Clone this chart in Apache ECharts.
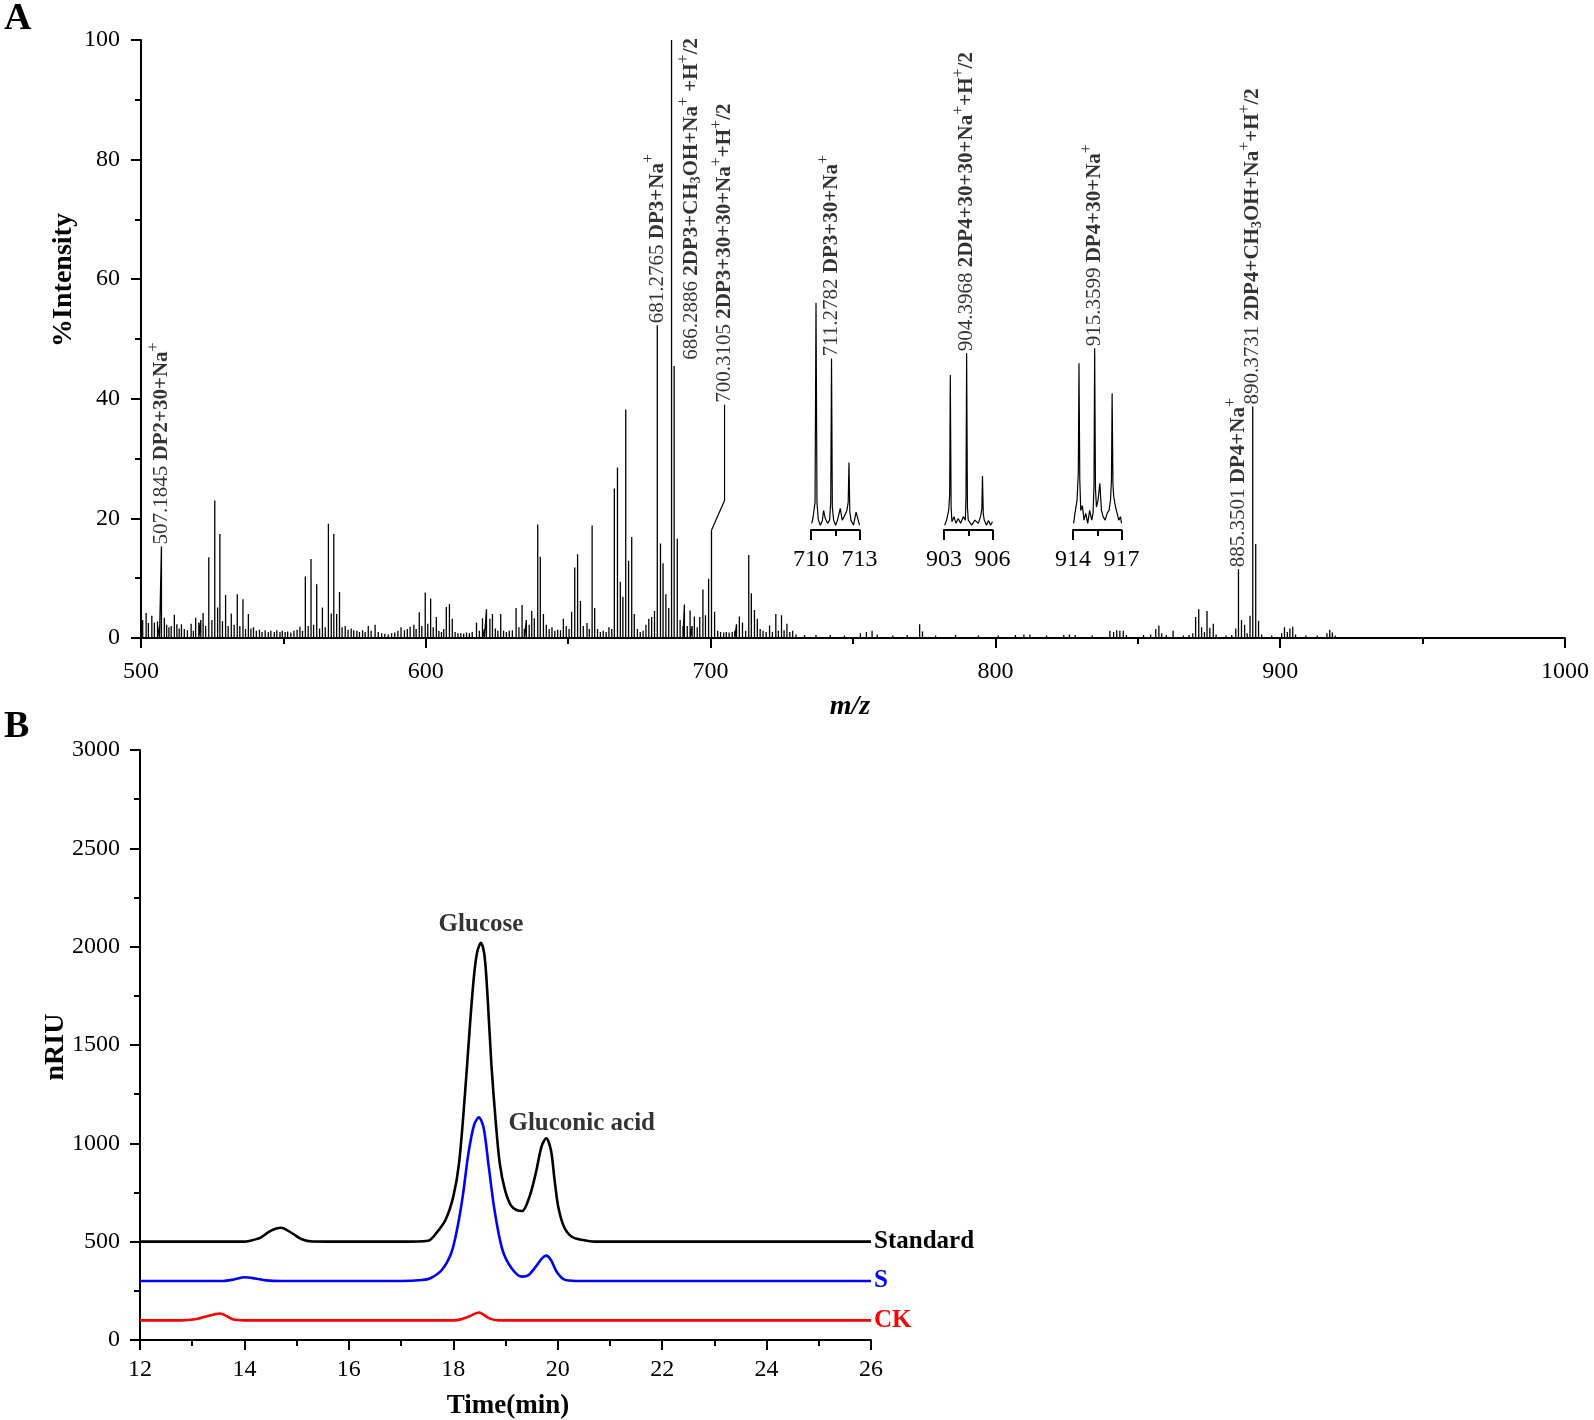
<!DOCTYPE html>
<html><head><meta charset="utf-8">
<script src="https://cdn.jsdelivr.net/npm/echarts@6/dist/echarts.min.js"></script>
<style>html,body{margin:0;padding:0;background:#fff}#c{width:1594px;height:1420px}</style>
</head><body><div id="c"></div>
<script>
// ---------- Panel A: MS spectrum (m/z, % intensity) ----------
const peaks = [
[500.6,3.0],[501.8,4.2],[502.6,2.5],[503.8,3.7],[504.7,2.6],[505.8,2.8],[506.5,2.0],[507.18,15.3],[508.2,3.4],[509.0,2.2],[509.8,1.8],[510.6,2.0],[511.7,3.9],[512.6,2.3],[513.4,1.6],[514.2,2.3],[515.2,1.5],[516.3,1.3],[517.6,2.4],[518.4,1.2],[519.2,3.4],[520.3,2.6],[521.0,3.0],[521.8,4.2],[522.7,2.0],[523.8,13.5],[524.9,3.0],[525.9,23.0],[526.9,5.1],[527.7,17.4],[528.6,2.8],[529.7,7.2],[530.6,2.0],[531.7,4.1],[532.7,2.2],[533.8,7.3],[534.7,2.0],[535.8,6.5],[536.7,1.5],[537.7,4.0],[538.6,1.6],[539.5,1.8],[540.5,1.2],[541.6,1.4],[542.5,1.0],[543.6,1.3],[544.7,1.0],[545.6,1.2],[546.8,1.0],[547.7,1.3],[548.8,1.0],[549.6,1.2],[550.6,1.0],[551.5,1.1],[552.6,0.9],[553.7,1.2],[554.8,1.4],[555.8,1.9],[556.7,1.2],[557.7,10.3],[558.7,2.0],[559.7,13.2],[560.6,2.2],[561.7,9.0],[562.7,1.6],[563.7,5.1],[564.7,1.8],[565.8,19.1],[566.8,4.1],[567.7,17.4],[568.7,4.0],[569.7,7.7],[570.6,1.8],[571.7,2.0],[572.7,1.4],[573.8,1.6],[574.7,1.3],[575.8,1.2],[576.7,1.0],[577.8,1.3],[578.7,1.0],[579.8,2.0],[580.8,1.2],[582.2,2.2],[583.3,1.0],[584.5,0.8],[585.6,0.7],[586.8,0.6],[588.0,0.8],[589.1,0.9],[590.2,1.2],[591.3,1.8],[592.5,1.3],[593.5,1.5],[594.5,1.9],[595.8,2.2],[596.6,1.5],[597.7,4.3],[598.6,2.0],[599.8,7.6],[600.7,2.4],[601.7,6.6],[602.6,1.8],[603.7,3.5],[604.6,1.2],[605.5,1.0],[606.3,1.5],[607.2,5.2],[608.3,5.7],[609.3,3.2],[610.3,1.0],[611.3,0.8],[612.3,0.8],[613.3,0.7],[614.3,0.9],[615.3,0.8],[616.3,1.0],[617.8,2.6],[618.8,1.2],[619.9,3.3],[620.6,1.5],[621.3,4.8],[622.5,3.2],[623.4,4.0],[624.4,1.6],[625.3,1.2],[626.3,4.0],[627.3,1.2],[628.3,1.0],[629.3,1.2],[630.4,1.3],[631.7,5.0],[632.7,1.8],[633.8,5.5],[634.6,1.5],[635.3,3.0],[636.3,2.2],[637.2,4.5],[638.1,3.3],[639.3,19.0],[640.2,13.6],[641.3,4.0],[642.3,2.2],[643.3,1.5],[644.3,1.8],[645.3,1.2],[646.3,1.4],[647.3,1.3],[648.3,3.2],[649.3,2.0],[650.3,1.5],[651.2,4.4],[652.3,11.8],[653.3,14.0],[654.3,6.2],[655.3,2.0],[656.6,2.5],[657.4,1.5],[658.4,18.8],[659.3,5.0],[660.3,1.5],[661.3,1.0],[662.3,1.2],[663.3,1.0],[664.3,1.8],[665.3,1.5],[666.2,25.0],[667.3,28.5],[668.3,9.4],[669.2,6.9],[670.2,38.2],[671.2,12.9],[672.3,16.9],[673.2,4.0],[674.3,1.5],[675.3,1.0],[676.3,1.2],[677.3,2.2],[678.3,3.2],[679.3,3.5],[680.3,4.5],[681.28,52.3],[682.4,15.8],[683.3,12.5],[684.3,7.3],[685.3,5.0],[686.29,100],[687.2,45.5],[688.3,16.6],[689.3,3.0],[690.3,2.0],[690.8,5.6],[691.8,2.0],[692.8,4.6],[693.5,2.0],[694.3,3.6],[695.3,1.8],[696.2,3.5],[697.3,8.1],[698.2,3.8],[699.3,9.9],[700.31,18.0],[701.4,4.4],[702.5,1.2],[703.5,1.0],[704.6,0.9],[705.5,1.0],[706.5,0.9],[707.6,1.0],[708.5,1.2],[709.1,2.3],[710.1,3.6],[711.2,2.6],[712.3,1.2],[713.4,13.9],[714.3,7.5],[715.4,4.7],[716.4,3.2],[717.4,1.5],[718.4,1.2],[719.5,1.0],[720.7,2.1],[721.7,1.0],[722.9,4.0],[723.8,1.2],[724.9,3.8],[725.8,1.3],[726.8,2.4],[727.8,1.0],[728.8,1.2],[730.0,0.6],[733.0,0.5],[737.0,0.5],[742.0,0.5],[747.0,0.4],[752.6,0.8],[754.7,1.0],[756.7,1.2],[758.5,0.6],[764.0,0.4],[769.0,0.5],[773.4,2.3],[774.4,1.1],[779.0,0.4],[786.0,0.5],[794.0,0.4],[801.0,0.4],[807.0,0.5],[810.0,0.6],[812.1,0.6],[818.0,0.4],[824.0,0.5],[826.0,0.6],[828.0,0.5],[834.0,0.4],[840.2,1.2],[841.5,1.0],[842.6,1.3],[843.7,1.2],[844.9,1.2],[846.0,0.5],[852.0,0.5],[854.5,0.6],[856.3,1.5],[857.4,2.1],[858.4,0.8],[860.0,0.5],[862.4,1.2],[866.0,0.4],[868.0,0.5],[869.3,0.8],[870.3,3.5],[871.4,4.8],[872.4,1.8],[873.4,1.0],[874.3,4.5],[875.3,1.7],[876.5,2.4],[877.5,0.6],[881.0,0.4],[883.0,0.5],[884.4,1.6],[885.35,11.5],[886.4,3.0],[887.5,2.2],[888.4,0.8],[889.4,3.7],[890.37,38.7],[891.4,15.7],[892.4,2.9],[893.5,0.6],[897.0,0.4],[900.5,0.8],[901.5,1.8],[902.5,1.0],[903.4,1.6],[904.4,1.9],[905.4,0.6],[909.0,0.4],[913.0,0.4],[916.4,0.8],[917.4,1.4],[918.3,0.9],[919.3,0.4]
];
// inset profiles (m/z, relative intensity of inset)
const inset1 = [[710.04,2.9],[710.12,5.1],[710.25,12],[710.31,98.8],[710.37,12],[710.45,4.5],[710.58,2.1],[710.7,4],[710.78,8.5],[710.88,5],[711.03,2.9],[711.15,4.3],[711.22,12],[711.27,74.6],[711.32,10],[711.4,4.3],[711.52,2.1],[711.64,4.3],[711.81,9.4],[711.93,4.3],[712.05,5.8],[712.22,8.5],[712.3,12],[712.35,29.3],[712.4,8],[712.47,4.3],[712.63,2.1],[712.79,7.8],[712.92,4.3],[713.0,2.1]];
const inset2 = [[903.04,2.1],[903.16,4.3],[903.29,8.5],[903.35,15],[903.39,67.4],[903.44,10],[903.49,3.6],[903.62,5.8],[903.74,2.9],[903.88,5],[904.03,2.9],[904.19,5.8],[904.32,4.3],[904.36,14],[904.4,76.8],[904.45,10],[904.5,4.3],[904.71,2.1],[904.91,4.3],[905.12,2.9],[905.26,5.8],[905.34,9],[905.38,23.5],[905.43,7],[905.49,4.3],[905.63,2.1],[905.75,4.1],[905.88,2.1],[906.0,3.6]];
const inset3 = [[914.04,2.9],[914.12,7.2],[914.25,13],[914.33,25],[914.37,72.5],[914.42,22],[914.48,8.5],[914.58,10.6],[914.68,4.3],[914.79,7.2],[914.91,2.9],[915.03,8.5],[915.16,4.3],[915.24,7.2],[915.3,20],[915.34,79.0],[915.39,18],[915.45,10],[915.55,13],[915.66,20.3],[915.76,8.5],[915.86,5.8],[915.99,4.3],[916.11,7.2],[916.23,8.5],[916.32,13],[916.38,22],[916.42,59.4],[916.47,20],[916.52,14.5],[916.63,10],[916.73,7.2],[916.83,4.3],[916.94,5.8],[917.0,2.9]];

// peak annotation texts
const labMain = [
  [507.18,15.3,'{n|507.1845 }{b|DP2+30+Na}{sp|+}'],
  [681.28,52.3,'{n|681.2765 }{b|DP3+Na}{sp|+}'],
  [693.3,46.2,'{n|686.2886 }{b|2DP3+CH}{sb|3}{b|OH+Na}{sp|+}{b| +H}{sp|+}{b|/2}'],
  [704.9,39.0,'{n|700.3105 }{b|2DP3+30+30+Na}{sp|+}{b|+H}{sp|+}{b|/2}'],
  [885.35,11.5,'{n|885.3501 }{b|DP4+Na}{sp|+}'],
  [890.37,38.7,'{n|890.3731 }{b|2DP4+CH}{sb|3}{b|OH+Na}{sp|+}{b|+H}{sp|+}{b|/2}']
];
const leader700 = [[700.31,18.0],[704.9,23.0],[704.9,39.0]];
const labInset1 = [[711.27,74.6,'{n|711.2782 }{b|DP3+30+Na}{sp|+}']];
const labInset2 = [[904.4,76.8,'{n|904.3968 }{b|2DP4+30+30+Na}{sp|+}{b|+H}{sp|+}{b|/2}']];
const labInset3 = [[915.34,79.0,'{n|915.3599 }{b|DP4+30+Na}{sp|+}']];

// ---------- Panel B: HPLC (time min, nRIU) ----------
const stdCurve = [[12,500],[13,500],[14,500],[14.07,502],[14.3,519],[14.5,555],[14.7,571],[14.93,540],[15.1,512],[15.3,501],[16,500],[17,500],[17.52,505],[17.67,542],[17.85,610],[18.0,729],[18.11,898],[18.22,1237],[18.33,1640],[18.4,1860],[18.46,1975],[18.53,2020],[18.6,1950],[18.66,1730],[18.73,1400],[18.81,1119],[18.89,898],[18.99,763],[19.1,686],[19.21,661],[19.32,656],[19.46,729],[19.58,848],[19.69,983],[19.78,1026],[19.87,966],[19.94,814],[20.01,678],[20.12,576],[20.27,525],[20.49,508],[20.71,500],[22,500],[24,500],[26,500]];
const sCurve = [[12,300],[13,300],[13.59,300],[13.8,308],[14.01,319],[14.2,313],[14.42,303],[14.7,300],[16,300],[17,300],[17.4,305],[17.56,314],[17.78,356],[17.96,441],[18.07,559],[18.18,729],[18.29,949],[18.4,1095],[18.49,1132],[18.58,1080],[18.68,880],[18.79,660],[18.94,460],[19.12,364],[19.32,322],[19.44,330],[19.58,373],[19.7,415],[19.78,429],[19.87,407],[19.98,347],[20.12,308],[20.35,300],[22,300],[24,300],[26,300]];
const ckCurve = [[12,100],[12.8,100],[13.02,104],[13.25,118],[13.53,135],[13.79,104],[14.0,100],[16,100],[17.9,100],[18.07,101],[18.29,118],[18.49,140],[18.69,110],[18.87,100],[20,100],[22,100],[24,100],[26,100]];
const peakNames = [[18.53,2020,'Glucose','top'],[20.46,1103,'Gluconic acid','inside']];
const seriesNames = ['Standard','S','CK'];
const seriesColors = ['#000000','#0000ff','#ff0000'];

const F = 'Liberation Serif';
const RICH = {
  n:{fontFamily:F,fontSize:21,color:'#000',lineHeight:22},
  b:{fontFamily:F,fontSize:21,fontWeight:'bold',color:'#000',lineHeight:22},
  sp:{fontFamily:F,fontSize:16,color:'#000',lineHeight:16,padding:[0,0,16,0]},
  sb:{fontFamily:F,fontSize:14,fontWeight:'bold',color:'#000',lineHeight:14,padding:[10,0,0,0]}
};
const specData = [];
peaks.forEach(([m,h]) => { specData.push([m,0],[m,h],[m,0]); });
const plain = v => String(v);

function axisBase(extra){
  return Object.assign({
    axisLine:{show:true,onZero:false,lineStyle:{color:'#000',width:2}},
    axisTick:{show:true,inside:false,length:10,lineStyle:{color:'#000',width:2}},
    minorTick:{show:true,splitNumber:2,length:6,lineStyle:{color:'#000',width:2}},
    splitLine:{show:false}
  }, extra);
}
function lab(margin){ return {color:'#000',fontFamily:F,fontSize:24,margin:margin,formatter:plain}; }
function insetX(i, lo, hi){
  return axisBase({type:'value',gridIndex:i,min:lo,max:hi,interval:3,axisLabel:lab(18)});
}
function labSeries(xi, arr){
  return {type:'scatter',xAxisIndex:xi,yAxisIndex:xi,symbolSize:0,silent:true,z:5,
    data:arr.map(l=>({value:[l[0],l[1]],label:{formatter:l[2]}})),
    label:{show:true,position:'top',distance:2,rotate:90,align:'left',verticalAlign:'middle',rich:RICH}};
}

const chart = echarts.init(document.getElementById('c'));
chart.setOption({
  animation:false,
  backgroundColor:'#fff',
  grid:[
    {left:141,top:40,width:1424,height:598},
    {left:811,top:300,width:48.5,height:230},
    {left:944,top:300,width:48.5,height:230},
    {left:1073,top:300,width:48.5,height:230},
    {left:140,top:750,width:731,height:590}
  ],
  xAxis:[
    axisBase({type:'value',gridIndex:0,min:500,max:1000,interval:100,axisLabel:lab(22)}),
    insetX(1,710,713),
    insetX(2,903,906),
    insetX(3,914,917),
    axisBase({type:'value',gridIndex:4,min:12,max:26,interval:2,axisLabel:lab(18)})
  ],
  yAxis:[
    axisBase({type:'value',gridIndex:0,min:0,max:100,interval:20,axisLabel:lab(21)}),
    {type:'value',gridIndex:1,min:0,max:100,show:false},
    {type:'value',gridIndex:2,min:0,max:100,show:false},
    {type:'value',gridIndex:3,min:0,max:100,show:false},
    axisBase({type:'value',gridIndex:4,min:0,max:3000,interval:500,axisLabel:lab(20)})
  ],
  series:[
    {type:'line',xAxisIndex:0,yAxisIndex:0,data:specData,symbol:'none',lineStyle:{color:'#000',width:1.3},silent:true},
    {type:'line',xAxisIndex:0,yAxisIndex:0,data:leader700,symbol:'none',lineStyle:{color:'#000',width:1.2},silent:true},
    labSeries(0,labMain),
    {type:'line',xAxisIndex:1,yAxisIndex:1,data:inset1,symbol:'none',lineStyle:{color:'#000',width:1.2},silent:true},
    {type:'line',xAxisIndex:2,yAxisIndex:2,data:inset2,symbol:'none',lineStyle:{color:'#000',width:1.2},silent:true},
    {type:'line',xAxisIndex:3,yAxisIndex:3,data:inset3,symbol:'none',lineStyle:{color:'#000',width:1.2},silent:true},
    labSeries(1,labInset1),
    labSeries(2,labInset2),
    labSeries(3,labInset3),
    ...[stdCurve,sCurve,ckCurve].map((d,i)=>({
      type:'line',name:seriesNames[i],xAxisIndex:4,yAxisIndex:4,data:d,symbol:'none',smooth:0.3,
      lineStyle:{color:seriesColors[i],width:2.6},silent:true,
      endLabel:{show:true,formatter:seriesNames[i],color:seriesColors[i],fontFamily:F,fontWeight:'bold',fontSize:25,distance:3}
    })),
    {type:'scatter',xAxisIndex:4,yAxisIndex:4,symbolSize:0,silent:true,
      data:peakNames.map(p=>({value:[p[0],p[1]],label:{formatter:p[2],position:p[3]}})),
      label:{show:true,distance:6,color:'#000',fontFamily:F,fontWeight:'bold',fontSize:25}}
  ],
  graphic:[
    {type:'text',x:4,y:0,style:{text:'A',font:'bold 38px "Liberation Serif"',fill:'#000'}},
    {type:'text',x:4,y:708,style:{text:'B',font:'bold 38px "Liberation Serif"',fill:'#000'}},
    {type:'text',x:64,y:280,rotation:Math.PI/2,style:{text:'%Intensity',font:'bold 28px "Liberation Serif"',fill:'#000',align:'center',verticalAlign:'middle',textAlign:'center',textVerticalAlign:'middle'}},
    {type:'text',x:850,y:707,style:{text:'m/z',font:'italic bold 28px "Liberation Serif"',fill:'#000',align:'center',verticalAlign:'middle',textAlign:'center',textVerticalAlign:'middle'}},
    {type:'text',x:56,y:1047,rotation:Math.PI/2,style:{text:'nRIU',font:'bold 28px "Liberation Serif"',fill:'#000',align:'center',verticalAlign:'middle',textAlign:'center',textVerticalAlign:'middle'}},
    {type:'text',x:508,y:1406,style:{text:'Time(min)',font:'bold 27px "Liberation Serif"',fill:'#000',align:'center',verticalAlign:'middle',textAlign:'center',textVerticalAlign:'middle'}}
  ]
});
</script></body></html>
